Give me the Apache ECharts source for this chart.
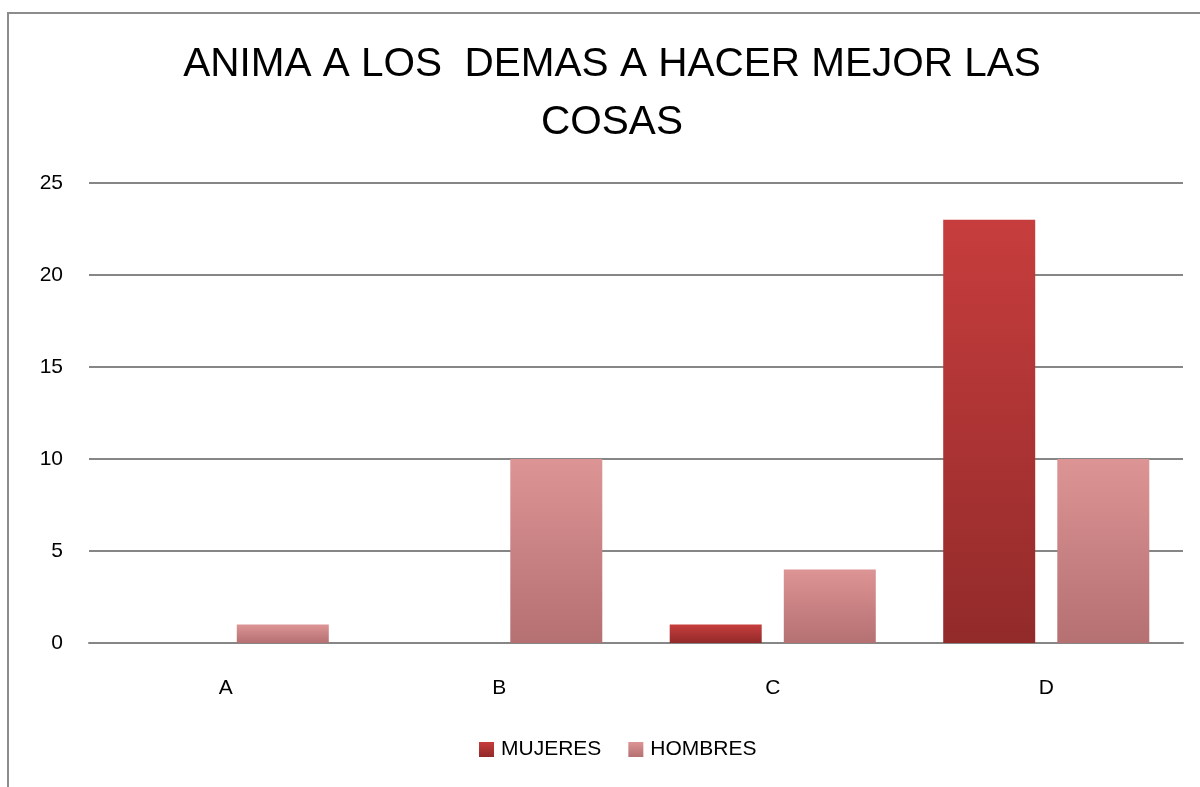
<!DOCTYPE html>
<html><head><meta charset="utf-8">
<script src="https://cdn.jsdelivr.net/npm/echarts@6/dist/echarts.min.js"></script>
<style>html,body{margin:0;padding:0;background:#fff}#c{width:1200px;height:787px}</style>
</head><body><div id="c"></div>
<script>
const titleText = 'ANIMA A LOS  DEMAS A HACER MEJOR LAS\nCOSAS';
const categories = ['A', 'B', 'C', 'D'];
const mujeres = [0, 0, 1, 23];
const hombres = [1, 10, 4, 10];
const yTicks = [0, 5, 10, 15, 20, 25];

const chart = echarts.init(document.getElementById('c'));
const FONT = '"Liberation Sans", Arial, sans-serif';
function grad(top, bottom) {
  return new echarts.graphic.LinearGradient(0, 0, 0, 1, [
    {offset: 0, color: top}, {offset: 1, color: bottom}
  ]);
}
chart.setOption({
  animation: false,
  graphic: [{
    type: 'rect', shape: {x: 8, y: 13, width: 1250, height: 850},
    style: {fill: 'none', stroke: '#8c8c8c', lineWidth: 2}, silent: true
  }],
  title: {
    text: titleText, left: 612, top: 36, padding: 0, textAlign: 'center',
    textStyle: {fontFamily: FONT, fontSize: 40.5, fontWeight: 'normal', color: '#000', lineHeight: 58}
  },
  legend: {
    bottom: 22, left: 474, itemWidth: 15, itemHeight: 15, itemGap: 27,
    textStyle: {fontFamily: FONT, fontSize: 21, color: '#000', padding: [0, 0, 0, 2]},
    data: [
      {name: 'MUJERES', icon: 'rect'},
      {name: 'HOMBRES', icon: 'rect'}
    ]
  },
  grid: {left: 89, right: 17, top: 183, bottom: 144},
  xAxis: {
    type: 'category', data: categories,
    axisLine: {lineStyle: {color: '#868686', width: 2}},
    axisTick: {show: false},
    axisLabel: {fontFamily: FONT, fontSize: 21, color: '#000', margin: 35}
  },
  yAxis: {
    type: 'value', min: 0, max: 25, interval: 5,
    axisLine: {show: false}, axisTick: {show: false},
    splitLine: {lineStyle: {color: '#868686', width: 2}},
    axisLabel: {fontFamily: FONT, fontSize: 21, color: '#000', margin: 26,
      formatter: v => yTicks.includes(v) ? String(v) : ''}
  },
  series: [
    {name: 'MUJERES', type: 'bar', data: mujeres, barWidth: 92, barGap: '24%',
     itemStyle: {color: grad('#c73d3d', '#922a2a')}},
    {name: 'HOMBRES', type: 'bar', data: hombres, barWidth: 92,
     itemStyle: {color: grad('#dd9495', '#b57071')}}
  ]
});
</script></body></html>
